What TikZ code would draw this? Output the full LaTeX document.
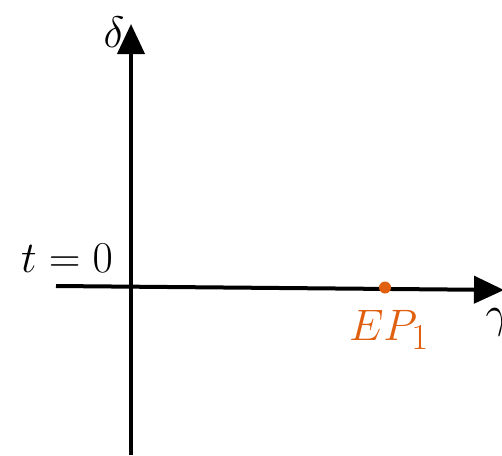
\documentclass[tikz,border=0pt]{standalone}
\usepackage{graphicx}
\usetikzlibrary{arrows.meta}
\definecolor{eporange}{RGB}{224,96,16}
\newcommand{\biglbl}[1]{\scalebox{1.77}{\Huge #1}}
\begin{document}
\begin{tikzpicture}[x=1pt,y=-1pt,
  axis/.style={line width=4pt,-{Triangle[length=30pt,width=27pt]}},
  lbl/.style={inner sep=0pt},
  epdot/.style={circle,fill=eporange,inner sep=0pt,minimum size=12pt}]
\useasboundingbox[fill=white] (0,0) rectangle (502,455);
\coordinate (ybot) at (131,455);
\coordinate (ytop) at (131,24);
\coordinate (xleft) at (56,286);
\coordinate (xright) at (504,290);
\draw[axis] (ybot) -- (ytop);
\draw[axis] (xleft) -- (xright);
\node[epdot] (ep1) at (385,287.5) {};
\node[lbl] (delta) at (114,32) {\biglbl{$\delta$}};
\node[lbl] (gamma) at (498,322) {\biglbl{$\gamma$}};
\node[lbl] (t0) at (67,258) {\biglbl{$t=0$}};
\node[lbl,text=eporange] (eplabel) at (389,330) {\biglbl{$EP_1$}};
\end{tikzpicture}
\end{document}
